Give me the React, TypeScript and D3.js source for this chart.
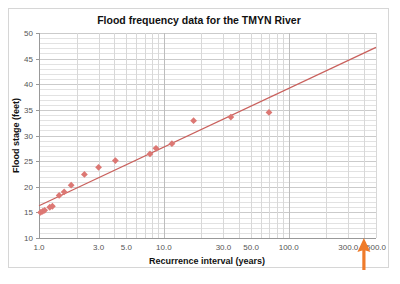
import React from 'react';
import * as d3 from 'd3';

// recurrence interval (years) and flood stage (feet)
const intervals = [1.03, 1.07, 1.11, 1.22, 1.28, 1.45, 1.59, 1.81, 2.31, 3.0, 4.09, 7.74, 8.65, 11.6, 17.3, 34.4, 69.5];
const stages = [15.0, 15.2, 15.4, 16.0, 16.2, 18.3, 19.0, 20.3, 22.4, 23.8, 25.1, 26.4, 27.5, 28.4, 32.9, 33.6, 34.5];

const xTicks = [1, 3, 5, 10, 30, 50, 100, 300, 500];
const yTicks = [10, 15, 20, 25, 30, 35, 40, 45, 50];

// fitted trend: stage = a + b * log10(T)
const trendA = 16.3;
const trendB = 11.45;
const markedInterval = 400;

const W = 400;
const H = 284;

const App: React.FC = () => {
  const margin = { top: 33, right: 24, bottom: 46, left: 39 };
  const x = d3.scaleLog().domain([1, 500]).range([margin.left, W - margin.right]);
  const y = d3.scaleLinear().domain([10, 50]).range([H - margin.bottom, margin.top]);

  // minor grid at every integer step within each decade
  const xGrid: number[] = [];
  for (let dec = 1; dec <= 100; dec *= 10) {
    for (let k = 1; k < 10; k++) {
      const v = k * dec;
      if (v <= 500) xGrid.push(v);
    }
  }
  xGrid.push(500);
  const yGrid = d3.range(10, 51, 1);

  const line = d3.line<number>()
    .x(t => x(t))
    .y(t => y(trendA + trendB * Math.log10(t)));

  const r = 3.4;
  const diamond = `M0,${-r}L${r},0L0,${r}L${-r},0Z`;
  const font = 'Liberation Sans, Arial, sans-serif';
  const ax = x(markedInterval);
  const ay = y(10);

  return (
    <svg width={W} height={H} style={{ position: 'absolute', left: 0, top: 0, background: '#fff' }}>
      <rect x={8.5} y={8.5} width={380} height={259} fill="#fff" stroke="#d6d6d6" />
      <text x={199} y={24} textAnchor="middle" fontFamily={font} fontWeight="bold" fontSize={10.5} fill="#111">
        Flood frequency data for the TMYN River
      </text>

      {yGrid.map(v => (
        <line key={'hy' + v} x1={margin.left} x2={W - margin.right} y1={Math.round(y(v)) + 0.5} y2={Math.round(y(v)) + 0.5}
          stroke={v % 5 === 0 ? '#cbcbcb' : '#e2e2e2'} strokeWidth={1} />
      ))}
      {xGrid.map(v => (
        <line key={'vx' + v} y1={margin.top} y2={H - margin.bottom} x1={Math.round(x(v)) + 0.5} x2={Math.round(x(v)) + 0.5}
          stroke={v === 10 || v === 100 ? '#bdbdbd' : '#d8d8d8'} strokeWidth={1} />
      ))}

      <line x1={margin.left + 0.5} x2={margin.left + 0.5} y1={margin.top} y2={H - margin.bottom} stroke="#999" />
      <line x1={margin.left} x2={W - margin.right} y1={Math.round(y(10)) + 0.5} y2={Math.round(y(10)) + 0.5} stroke="#999" />
      {yTicks.map(v => (
        <g key={'yt' + v}>
          <line x1={margin.left - 3} x2={margin.left} y1={Math.round(y(v)) + 0.5} y2={Math.round(y(v)) + 0.5} stroke="#999" />
          <text x={margin.left - 6} y={y(v) + 3} textAnchor="end" fontFamily={font} fontSize={8} fill="#555">{v}</text>
        </g>
      ))}
      {xTicks.map(v => (
        <text key={'xt' + v} x={x(v)} y={H - margin.bottom + 12} textAnchor="middle" fontFamily={font} fontSize={8} fill="#555">
          {v.toFixed(1)}
        </text>
      ))}

      <path d={line([1, 500]) ?? ''} fill="none" stroke="#c9605c" strokeWidth={1.2} />

      {intervals.map((t, i) => (
        <path key={'p' + i} d={diamond} transform={`translate(${x(t)},${y(stages[i])})`} fill="#dc7773" />
      ))}

      <text x={207} y={264} textAnchor="middle" fontFamily={font} fontWeight="bold" fontSize={9} fill="#111">
        Recurrence interval (years)
      </text>
      <text transform={`translate(19,${(margin.top + H - margin.bottom) / 2}) rotate(-90)`} textAnchor="middle"
        fontFamily={font} fontWeight="bold" fontSize={9} fill="#111">
        Flood stage (feet)
      </text>

      <g fill="#ef7b2a" stroke="none">
        <rect x={ax - 1.6} y={ay + 10} width={3.2} height={22} />
        <path d={`M${ax},${ay} L${ax + 6.5},${ay + 14} L${ax},${ay + 12} L${ax - 6.5},${ay + 14} Z`} />
      </g>
    </svg>
  );
};

export default App;
